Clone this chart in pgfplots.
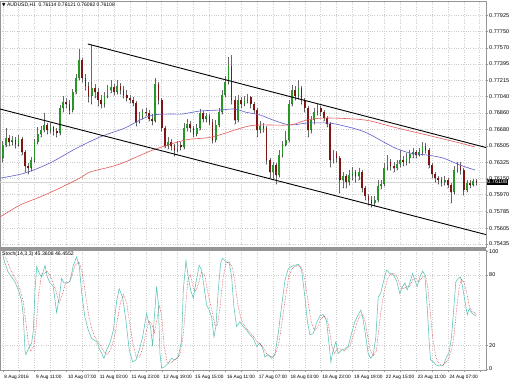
\documentclass[border=0pt]{standalone}
\usepackage{pgfplots}
\usepackage{pgfplotstable}
\pgfplotsset{compat=1.18}
\usepackage{fontspec}
\setmainfont{Liberation Sans}
\newfontfamily\dejavu{DejaVu Sans}
\definecolor{bull}{RGB}{40,150,40}
\definecolor{bear}{RGB}{130,20,20}
\definecolor{wick}{RGB}{105,105,105}
\definecolor{maone}{RGB}{95,95,205}
\definecolor{matwo}{RGB}{230,90,90}
\definecolor{stk}{RGB}{90,195,185}
\definecolor{sig}{RGB}{215,60,60}
\definecolor{frame}{RGB}{150,150,150}

\pgfplotstableread{
x o h l c
0 0.76370 0.76555 0.76326 0.76511
2 0.76511 0.76697 0.76490 0.76588
4 0.76588 0.76620 0.76501 0.76544
6 0.76544 0.76610 0.76511 0.76566
8 0.76566 0.76599 0.76479 0.76522
10 0.76522 0.76620 0.76501 0.76577
12 0.76577 0.76599 0.76402 0.76435
14 0.76435 0.76457 0.76217 0.76283
16 0.76283 0.76315 0.76195 0.76261
18 0.76261 0.76381 0.76228 0.76348
20 0.76348 0.76577 0.76326 0.76544
22 0.76544 0.76708 0.76522 0.76631
24 0.76631 0.76719 0.76599 0.76675
26 0.76675 0.76860 0.76653 0.76730
28 0.76730 0.76751 0.76631 0.76675
30 0.76675 0.76751 0.76642 0.76708
32 0.76708 0.76719 0.76620 0.76664
34 0.76664 0.76697 0.76599 0.76642
36 0.76642 0.76948 0.76620 0.76915
38 0.76915 0.77046 0.76871 0.76980
40 0.76980 0.77024 0.76915 0.76958
42 0.76958 0.77002 0.76849 0.76893
44 0.76893 0.77122 0.76871 0.77089
46 0.77089 0.77285 0.77067 0.77242
48 0.77242 0.77558 0.77220 0.77438
50 0.77438 0.77460 0.77198 0.77242
52 0.77242 0.77285 0.77111 0.77155
54 0.77155 0.77198 0.76980 0.77046
56 0.77046 0.77601 0.76958 0.77133
58 0.77133 0.77176 0.77024 0.77089
60 0.77089 0.77133 0.76937 0.77002
62 0.77002 0.77057 0.76915 0.76958
64 0.76958 0.77089 0.76926 0.77046
66 0.77046 0.77166 0.77024 0.77111
68 0.77111 0.77220 0.77078 0.77144
70 0.77144 0.77176 0.77057 0.77089
72 0.77089 0.77220 0.77067 0.77155
74 0.77155 0.77187 0.77067 0.77111
76 0.77111 0.77155 0.77024 0.77057
78 0.77057 0.77111 0.76991 0.77024
80 0.77024 0.77057 0.76969 0.77002
82 0.77002 0.77035 0.76937 0.76969
84 0.76969 0.76991 0.76719 0.76762
86 0.76762 0.76871 0.76751 0.76817
88 0.76817 0.76904 0.76795 0.76871
90 0.76871 0.76915 0.76828 0.76860
92 0.76860 0.76893 0.76773 0.76795
94 0.76795 0.76849 0.76730 0.76773
96 0.76773 0.77242 0.76762 0.77176
98 0.77176 0.77198 0.76958 0.77002
100 0.77002 0.77024 0.76664 0.76697
102 0.76697 0.76719 0.76479 0.76501
104 0.76501 0.76599 0.76468 0.76544
106 0.76544 0.76577 0.76457 0.76501
108 0.76501 0.76522 0.76392 0.76457
110 0.76457 0.76555 0.76435 0.76511
112 0.76511 0.76544 0.76457 0.76490
114 0.76490 0.76751 0.76468 0.76697
116 0.76697 0.76795 0.76664 0.76740
118 0.76740 0.76773 0.76653 0.76697
120 0.76697 0.76719 0.76599 0.76631
122 0.76631 0.76740 0.76610 0.76697
124 0.76697 0.76904 0.76675 0.76860
126 0.76860 0.76882 0.76762 0.76795
128 0.76795 0.76860 0.76762 0.76828
130 0.76828 0.76849 0.76730 0.76762
132 0.76762 0.76795 0.76533 0.76566
134 0.76566 0.76784 0.76544 0.76730
136 0.76730 0.76915 0.76708 0.76871
138 0.76871 0.77111 0.76849 0.77057
140 0.77057 0.77264 0.77035 0.77198
142 0.77198 0.77471 0.77176 0.77373
144 0.77373 0.77492 0.76958 0.77002
146 0.77002 0.77046 0.76740 0.76784
148 0.76784 0.77057 0.76762 0.77002
150 0.77002 0.77035 0.76915 0.76958
152 0.76958 0.77046 0.76937 0.77002
154 0.77002 0.77067 0.76969 0.77035
156 0.77035 0.77046 0.76915 0.76958
158 0.76958 0.76980 0.76860 0.76893
160 0.76893 0.76915 0.76599 0.76675
162 0.76675 0.76773 0.76642 0.76719
164 0.76719 0.76751 0.76653 0.76697
166 0.76697 0.76719 0.76304 0.76348
168 0.76348 0.76370 0.76152 0.76217
170 0.76217 0.76326 0.76130 0.76293
172 0.76293 0.76315 0.76086 0.76184
174 0.76184 0.76457 0.76163 0.76402
176 0.76402 0.76555 0.76381 0.76511
178 0.76511 0.76664 0.76501 0.76566
180 0.76566 0.77002 0.76544 0.76958
182 0.76958 0.77166 0.76937 0.77111
184 0.77111 0.77155 0.77002 0.77046
186 0.77046 0.77220 0.77013 0.77133
188 0.77133 0.77155 0.76958 0.77002
190 0.77002 0.77024 0.76871 0.76915
192 0.76915 0.76937 0.76599 0.76675
194 0.76675 0.76828 0.76642 0.76784
196 0.76784 0.76915 0.76740 0.76871
198 0.76871 0.76958 0.76839 0.76915
200 0.76915 0.76937 0.76828 0.76871
202 0.76871 0.76893 0.76773 0.76806
204 0.76806 0.76828 0.76708 0.76740
206 0.76740 0.76762 0.76272 0.76348
208 0.76348 0.76457 0.76315 0.76424
210 0.76424 0.76446 0.76326 0.76370
212 0.76370 0.76392 0.75988 0.76130
214 0.76130 0.76217 0.76043 0.76174
216 0.76174 0.76195 0.76043 0.76108
218 0.76108 0.76239 0.76075 0.76184
220 0.76184 0.76272 0.76130 0.76217
222 0.76217 0.76239 0.76108 0.76174
224 0.76174 0.76261 0.76130 0.76217
226 0.76217 0.76239 0.75999 0.76043
228 0.76043 0.76065 0.75912 0.75956
230 0.75956 0.75977 0.75857 0.75912
232 0.75912 0.75956 0.75836 0.75879
234 0.75879 0.75956 0.75847 0.75912
236 0.75912 0.76130 0.75890 0.76065
238 0.76065 0.76130 0.76032 0.76086
240 0.76086 0.76315 0.76065 0.76261
242 0.76261 0.76402 0.76239 0.76326
244 0.76326 0.76359 0.76239 0.76283
246 0.76283 0.76326 0.76217 0.76261
248 0.76261 0.76348 0.76239 0.76304
250 0.76304 0.76457 0.76272 0.76348
252 0.76348 0.76392 0.76283 0.76326
254 0.76326 0.76424 0.76293 0.76370
256 0.76370 0.76457 0.76315 0.76413
258 0.76413 0.76479 0.76370 0.76435
260 0.76435 0.76457 0.76370 0.76402
262 0.76402 0.76479 0.76392 0.76435
264 0.76435 0.76544 0.76402 0.76501
266 0.76501 0.76533 0.76424 0.76457
268 0.76457 0.76479 0.76261 0.76293
270 0.76293 0.76315 0.76152 0.76195
272 0.76195 0.76217 0.76108 0.76152
274 0.76152 0.76174 0.76086 0.76130
276 0.76130 0.76163 0.76065 0.76108
278 0.76108 0.76174 0.76075 0.76130
280 0.76130 0.76152 0.76043 0.76075
282 0.76075 0.76097 0.75879 0.75999
284 0.75999 0.76283 0.75977 0.76239
286 0.76239 0.76326 0.76217 0.76283
288 0.76283 0.76326 0.76195 0.76239
290 0.76239 0.76261 0.75966 0.76021
292 0.76021 0.76130 0.75999 0.76097
294 0.76097 0.76130 0.76043 0.76075
296 0.76075 0.76141 0.76065 0.76119
298 0.76119 0.76141 0.76075 0.76108
}\candles

\pgfplotsset{candle/.style={only marks, mark=*, mark size=0.1pt,
  mark options={draw=none, fill=none}, forget plot}}

\begin{document}
\begin{tikzpicture}
\useasboundingbox (0,0) rectangle (510pt,382pt);
\fill[white] (0,0) rectangle (510pt,382pt);
% ---------------- price panel ----------------
\begin{axis}[
  at={(0pt,135pt)}, anchor=south west,
  scale only axis, width=486pt, height=246pt,
  xmin=-1.7, xmax=304, ymin=0.75400, ymax=0.78081,
  xtick={0,10,...,300}, xticklabels={}, xtick style={draw=none},
  ytick={0.75435,0.75605,0.75785,0.75970,0.76150,0.76325,0.76505,0.76680,0.76860,0.77040,0.77215,0.77395,0.77570,0.77750,0.77925},
  yticklabels={0.75435,0.75605,0.75785,0.75970,0.76150,0.76325,0.76505,0.76680,0.76860,0.77040,0.77215,0.77395,0.77570,0.77750,0.77925},
  yticklabel pos=right, ytick pos=right,
  tick align=outside, major tick length=2pt,
  tick style={frame},
  yticklabel style={font=\fontsize{5.5}{6}\selectfont, xshift=-2.3pt},
  grid=major, grid style={dotted, line width=0.4pt, gray!40},
  axis line style={frame},
  clip mode=individual,
  scaled y ticks=false,
]
\addplot[gray!35, forget plot] coordinates {(-2,0.76108) (305,0.76108)};
% wicks
\addplot[candle,
  error bars/.cd, y dir=plus, y explicit, error mark=none,
  error bar style={line width=0.55pt, color=wick}]
  table[x=x, y=l, y error plus expr=\thisrow{h}-\thisrow{l}] {\candles};
% bull bodies
\addplot[candle,
  restrict expr to domain={\thisrow{c}-\thisrow{o}}{0:1},
  error bars/.cd, y dir=plus, y explicit, error mark=none,
  error bar style={line width=1.7pt, color=bull}]
  table[x=x, y=o, y error plus expr=\thisrow{c}-\thisrow{o}] {\candles};
% bear bodies
\addplot[candle,
  restrict expr to domain={\thisrow{c}-\thisrow{o}}{-1:-0.000001},
  error bars/.cd, y dir=plus, y explicit, error mark=none,
  error bar style={line width=1.7pt, color=bear}]
  table[x=x, y=c, y error plus expr=\thisrow{o}-\thisrow{c}] {\candles};
% moving averages
\addplot[maone, line width=0.6pt, smooth] coordinates {
(-1.7,0.76150) (14.0,0.76206) (29.7,0.76315) (45.5,0.76468) (61.2,0.76599)
(76.9,0.76697) (86.4,0.76784) (94.5,0.76839) (105.2,0.76849) (112.8,0.76849)
(124.1,0.76882) (136.7,0.76893) (146.1,0.76904) (152.4,0.76871) (161.8,0.76839)
(170.0,0.76784) (180.7,0.76730) (191.4,0.76751) (204.0,0.76751) (212.1,0.76730)
(227.8,0.76653) (245.5,0.76490) (256.2,0.76424) (266.9,0.76402) (276.9,0.76370)
(287.6,0.76293) (297.0,0.76239)};
\addplot[matwo, line width=0.6pt, smooth] coordinates {
(-1.7,0.75727) (10.9,0.75857) (23.5,0.75945) (36.0,0.76043) (48.6,0.76152)
(54.9,0.76217) (67.5,0.76272) (76.9,0.76326) (94.5,0.76457) (115.0,0.76566)
(131.6,0.76599) (152.4,0.76708) (161.8,0.76730) (180.7,0.76730) (191.4,0.76784)
(204.0,0.76806) (227.8,0.76784) (245.5,0.76708) (266.9,0.76620) (287.6,0.76533)
(297.0,0.76490)};
% channel
\addplot[black, line width=0.9pt] coordinates {(53.6,0.77612) (304,0.76484)};
\addplot[black, line width=0.9pt] coordinates {(-1.7,0.76904) (304,0.75535)};
\node[anchor=north west, inner sep=0pt, font=\fontsize{5}{6}\selectfont]
  at ([xshift=2pt, yshift=-2pt]rel axis cs:0,1) {{\dejavu\fontsize{4.5}{5}\selectfont ▼}\ AUDUSD,H1\ \ 0.76114 0.76121 0.76082 0.76108};
\node[anchor=west, fill=black, text=white, inner sep=0.7pt, font=\fontsize{5.5}{6}\selectfont]
  at ([xshift=0.5pt]axis cs:304,0.76108) {0.76108};
\end{axis}
\fill[frame] (0,132.3pt) rectangle (486pt,134.6pt);
% ---------------- stochastic panel ----------------
\begin{axis}[
  at={(0pt,12pt)}, anchor=south west,
  scale only axis, width=486pt, height=120pt,
  xmin=-1.7, xmax=304, ymin=-1, ymax=101,
  xtick={0,10,...,300},
  xticklabels={8 Aug 2016,,9 Aug 11:00,,10 Aug 07:00,,11 Aug 03:00,,11 Aug 23:00,,12 Aug 19:00,,15 Aug 15:00,,16 Aug 11:00,,17 Aug 07:00,,18 Aug 03:00,,18 Aug 23:00,,19 Aug 19:00,,22 Aug 15:00,,23 Aug 11:00,,24 Aug 07:00,,},
  xticklabel style={anchor=north west, xshift=-1.8pt, yshift=0.5pt, font=\fontsize{4.75}{6}\selectfont},
  ytick={20,80}, yticklabels={20,80},
  extra y ticks={0,100}, extra y tick labels={0,100},
  extra y tick style={grid=none},
  yticklabel pos=right, ytick pos=right, xtick pos=bottom,
  tick align=outside, major tick length=2pt,
  tick style={frame},
  yticklabel style={font=\fontsize{5.5}{6}\selectfont, xshift=-2.3pt},
  xmajorgrids, ymajorgrids, grid style={dotted, line width=0.4pt, gray!40},
  axis line style={frame},
  clip mode=individual,
]
\addplot[stk, line width=0.55pt] coordinates {
(0,97) (1.4,90) (3.5,82) (5.6,78) (7.7,74) (9.8,67) (11.9,58) (13.0,44) (14.0,16) (14.6,12)
(16.1,17) (18.2,22) (19.3,33) (20.3,67) (21.4,87) (23.0,81) (24.5,78) (26.6,88) (28.1,78) (29.7,73)
(31.8,70) (33.9,48) (35.6,61) (37.1,77) (38.5,73) (40.2,73) (42.3,74) (44.4,88) (46.5,95) (48.2,87)
(49.7,64) (51.7,44) (53.8,33) (55.9,26) (59.1,23) (61.2,16) (63.7,9) (65.4,16) (67.5,22) (69.6,33)
(71.7,58) (73.3,68) (75.4,61) (77.5,41) (79.6,16) (81.7,6) (83.8,7.5) (85.9,16) (88.0,27) (90.5,47)
(91.6,41) (93.0,36) (94.3,19) (95.1,39) (96.8,70) (97.9,56) (98.9,13) (100.0,0.5) (102.1,2) (104.1,4.6)
(106.2,9) (108.3,7.5) (110.4,10) (112.5,24) (113.6,67) (115.3,92) (116.7,78) (118.2,67) (119.9,60) (121.5,73)
(123.6,88) (125.1,84) (126.6,70) (128.3,54) (129.9,50) (131.4,44) (132.9,27) (134.1,36) (135.6,67) (137.1,90)
(138.3,94) (140.4,91) (142.5,90) (144.0,78) (145.4,53) (147.1,36) (149.2,40) (151.3,36) (153.4,33) (155.5,29)
(157.6,26) (159.7,19) (161.8,22) (163.9,16) (164.9,10) (167.0,12) (169.1,9) (171.2,12) (173.3,30) (175.4,53)
(177.5,75) (179.6,85) (181.7,87) (183.8,88) (185.9,89) (188.0,84) (190.1,61) (191.6,41) (193.2,29) (195.3,30)
(197.4,39) (199.5,45) (201.6,46) (203.7,41) (205.4,19) (206.4,6) (207.9,16) (209.6,23) (211.0,13) (213.1,16)
(215.2,17) (217.3,19) (219.4,30) (221.5,40) (223.6,46) (225.3,50) (226.8,41) (228.4,27) (229.9,13) (231.4,9)
(233.1,12) (234.7,27) (236.2,61) (237.7,64) (239.3,73) (241.4,84) (243.5,81) (245.6,80) (247.7,75) (249.8,64)
(251.5,70) (253.0,73) (254.4,67) (256.1,73) (257.8,81) (259.3,75) (260.7,70) (262.4,78) (264.1,83) (265.5,80)
(267.0,53) (268.3,22) (269.1,7.5) (270.8,6) (272.9,3) (275.0,2.4) (277.1,3) (279.2,10) (280.8,14) (282.3,27)
(283.8,53) (285.0,74) (286.5,77) (288.0,78) (289.6,67) (291.3,53) (292.2,46) (293.4,51) (294.9,48) (296.4,46)
(297.6,45)};
\addplot[sig, line width=0.55pt, densely dotted] coordinates {
(1.5,95) (3,91) (5,84) (7,79) (9,74) (11,67) (13,57) (14.5,40) (16,24) (17.5,15)
(19.5,19) (21,35) (22.5,62) (24.5,81) (26,81) (28,83) (29.5,80) (31.5,74) (33.5,66) (35.5,56)
(37.5,63) (39.5,73) (41.5,73) (43.5,79) (45.5,88) (48,91) (50,82) (52,64) (54,46) (56,34)
(58,27) (61,21) (63.5,15) (66,12) (68,17) (70,25) (72,40) (74,56) (76,63) (78,56)
(80,38) (82,21) (84,10) (86,10) (88,17) (90,30) (92,41) (94,37) (95.5,31) (97,42)
(98.5,54) (100,45) (101.5,20) (103.5,5) (105.5,5) (107.5,7) (109.5,9) (111.5,12) (113.5,28) (115,52)
(116.5,76) (118,80) (120,68) (121.5,66) (123.5,74) (125,82) (127,80) (128.5,69) (130.5,56) (132,47)
(133.5,37) (135,37) (136.5,50) (138.5,76) (140.5,90) (142.5,91) (144.5,86) (146,74) (148,54) (150,42)
(152,37) (154,33) (156,30) (158,27) (160,23) (162,21) (164,18) (166,13) (168,11) (170,10)
(172,14) (174,24) (176,43) (178,62) (180,79) (182,85) (184,87) (186,88) (188,86) (190,76)
(192,58) (194,40) (196,33) (198,35) (200,42) (202,45) (204,43) (205.5,33) (207,20) (208.5,13)
(210.5,17) (212.5,17) (214.5,15) (216.5,17) (218.5,20) (220.5,28) (222.5,38) (224.5,45) (226.5,46) (228,40)
(229.5,28) (231,17) (233,11) (235,15) (236.5,33) (238,50) (240,66) (242,76) (244,81) (246,81)
(248,78) (250,71) (252,68) (254,70) (256,70) (258,76) (260,77) (262,74) (264,78) (266,79)
(267.5,68) (269,47) (270.5,26) (272.5,10) (274.5,4) (276.5,3) (278.5,5) (280.5,9) (282.5,17) (284,30)
(285.5,51) (287,68) (288.5,76) (290,74) (292,64) (293.5,53) (295,49) (296.5,48) (298,46)};
\node[anchor=north west, inner sep=0pt, font=\fontsize{5.2}{6}\selectfont]
  at ([xshift=2pt, yshift=-1.5pt]rel axis cs:0,1) {Stoch(14,3,3) 45.3608 46.4552};
\end{axis}
\end{tikzpicture}
\end{document}
